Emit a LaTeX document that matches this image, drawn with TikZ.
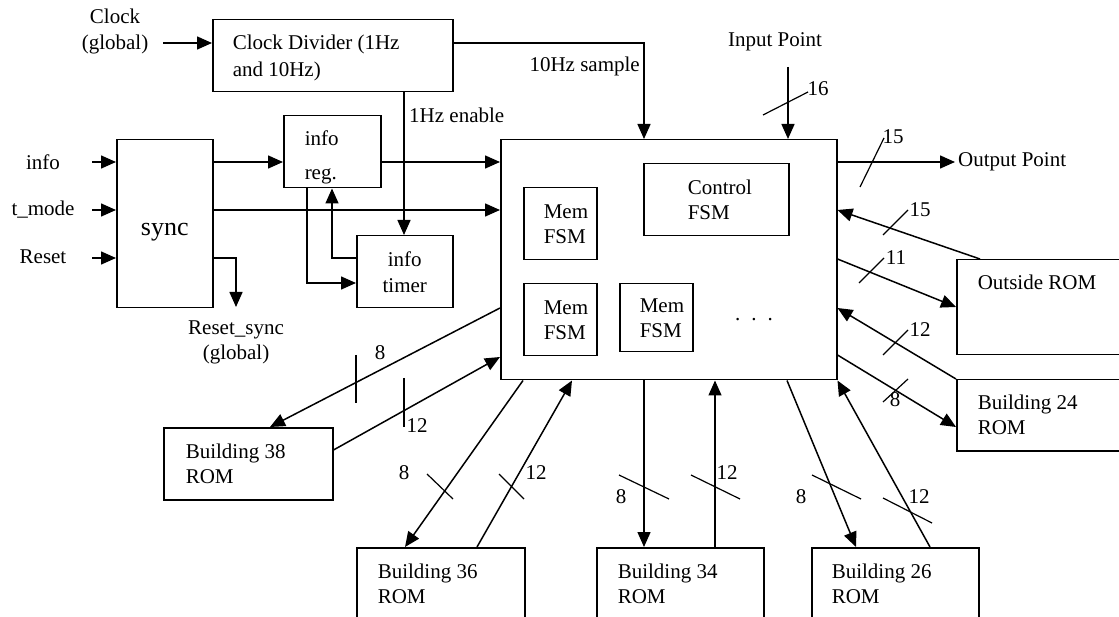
\documentclass[tikz,border=0pt]{standalone}
\usepackage{fontspec}
\setmainfont{Liberation Serif}
\usetikzlibrary{arrows.meta,calc}
\newcommand\myfs{\fontsize{21}{25}\selectfont}
\tikzset{
  box/.style={draw, line width=1.5pt, anchor=north west, align=flush left, inner ysep=0pt, font=\myfs},
  cbox/.style={draw, line width=1.5pt, anchor=north west, align=center, inner sep=0pt, font=\myfs},
  arr/.style={line width=1.5pt, -{Triangle[length=15pt,width=13pt]}},
  ln/.style={line width=1.5pt},
  tick/.style={line width=1.2pt},
  lbl/.style={inner sep=0pt, font=\myfs},
}
\begin{document}
\begin{tikzpicture}[x=1pt,y=-1pt]
\useasboundingbox (0,0) rectangle (1119,617);
\clip (0,0) rectangle (1119,617);
% boxes
\node[box, minimum width=240pt, minimum height=72pt, inner xsep=20pt, text width=200pt] (div) at (212,19) {\rule{0pt}{18pt}Clock Divider (1Hz\\[2pt]and 10Hz)};
\node[cbox, minimum width=96pt, minimum height=168pt, font=\fontsize{26}{30}\selectfont, text height=24pt, text depth=0pt] (sync) at (116,139) {sync};
\node[box, minimum width=97pt, minimum height=72pt, inner xsep=21pt, text width=55pt] (reg) at (283,115) {\rule{0pt}{26pt}info\\[9pt]reg.};
\node[cbox, minimum width=96pt, minimum height=72pt] (tim) at (356,235) {info\\[1pt]timer};
\node[box, minimum width=336pt, minimum height=240pt, inner sep=0pt] (cen) at (500,139) {};
\node[box, minimum width=145pt, minimum height=72pt, inner xsep=44pt, text width=57pt] (ctl) at (643,163) {Control\\FSM};
\node[box, minimum width=73pt, minimum height=72pt, inner xsep=20pt, text width=33pt] (m1) at (523,187) {Mem\\FSM};
\node[box, minimum width=73pt, minimum height=72pt, inner xsep=20pt, text width=33pt] (m2) at (523,283) {Mem\\FSM};
\node[box, minimum width=73pt, minimum height=68pt, inner xsep=20pt, text width=33pt] (m3) at (619,283) {Mem\\FSM};
\node[lbl, anchor=base west] (dots) at (735,321) {.\hspace{11pt}.\hspace{11pt}.};
\node[box, minimum width=175pt, minimum height=95pt, inner xsep=21pt, text width=133pt] (oro) at (956,259) {Outside ROM\\\mbox{}\\\mbox{}};
\node[box, minimum width=175pt, minimum height=71pt, inner xsep=21pt, text width=133pt] (b24) at (956,379) {Building 24\\ROM};
\node[box, minimum width=169pt, minimum height=72pt, inner xsep=22pt, text width=125pt] (b38) at (163,427) {Building 38\\ROM};
\node[box, minimum width=168pt, minimum height=72pt, inner xsep=21pt, text width=126pt] (b36) at (356,547) {Building 36\\ROM};
\node[box, minimum width=167pt, minimum height=72pt, inner xsep=21pt, text width=125pt] (b34) at (596,547) {Building 34\\ROM};
\node[box, minimum width=167pt, minimum height=72pt, inner xsep=20pt, text width=127pt] (b26) at (811,547) {Building 26\\ROM};
% external labels
\node[lbl, align=center] (clk) at (115,31) {Clock\\[1pt](global)};
\node[lbl] (linfo) at (43,162) {info};
\node[lbl] (ltm) at (43,210) {t\_mode};
\node[lbl] (lrst) at (43,257) {Reset};
\node[lbl, align=center] (lrs) at (236,342) {Reset\_sync\\(global)};
\node[lbl, anchor=east] (l10) at (640,66) {10Hz sample};
\node[lbl, anchor=west] (l1) at (409,115) {1Hz enable};
\node[lbl] (lin) at (775,42) {Input Point};
\node[lbl, anchor=west, inner xsep=3pt] (lout) at (955,162) {Output Point};
% free ends
\coordinate (clkA) at (163,43);
\coordinate (inA) at (788,67);
\coordinate (i1) at (92,162);
\coordinate (i2) at (92,210);
\coordinate (i3) at (92,258);
\coordinate (rsA) at (236,307);
% connectors
\draw[arr] (clkA) -- (div.west |- 0,43);
\draw[arr] (div.east |- 0,43) -| (cen.north -| 644,0);
\draw[arr] (div.south -| 404,0) -- (tim.north -| 404,0);
\draw[arr] (inA) -- (cen.north -| 788,0);
\draw[arr] (cen.east |- 0,162) -- (lout.west);
\draw[arr] (i1) -- (sync.west |- 0,162);
\draw[arr] (i2) -- (sync.west |- 0,210);
\draw[arr] (i3) -- (sync.west |- 0,258);
\draw[arr] (sync.east |- 0,162) -- (reg.west |- 0,162);
\draw[arr] (reg.east |- 0,162) -- (cen.west |- 0,162);
\draw[arr] (sync.east |- 0,210) -- (cen.west |- 0,210);
\draw[arr] (sync.east |- 0,258) -| (rsA);
\draw[arr] (reg.south -| 307,0) |- (tim.west |- 0,283);
\draw[arr] (tim.west |- 0,258) -| (reg.south -| 332,0);
\draw[arr] (cen.west |- 0,308) -- (b38.north -| 270,0);
\draw[arr] (b38.east |- 0,450) -- (cen.west |- 0,357);
\draw[arr] (cen.south -| 523,0) -- (b36.north -| 405,0);
\draw[arr] (b36.north -| 477,0) -- (cen.south -| 572,0);
\draw[arr] (cen.south -| 644,0) -- (b34.north -| 644,0);
\draw[arr] (b34.north -| 715,0) -- (cen.south -| 715,0);
\draw[arr] (cen.south -| 787,0) -- (b26.north -| 856,0);
\draw[arr] (b26.north -| 930,0) -- (cen.south east);
\draw[arr] (oro.north -| 980,0) -- (cen.east |- 0,210);
\draw[arr] (cen.east |- 0,259) -- (oro.west |- 0,307);
\draw[arr] (b24.north west) -- (cen.east |- 0,308);
\draw[arr] (cen.east |- 0,355) -- (b24.west |- 0,427);
% bus ticks
\draw[tick] (763,115) -- (808,92);
\draw[tick] (860,187) -- (884,138);
\draw[tick] (883,235) -- (908,210);
\draw[tick] (859,283) -- (884,258);
\draw[tick] (883,355) -- (908,330);
\draw[tick] (883,402) -- (908,379);
\draw[tick] (356,355) -- (356,403);
\draw[tick] (404,378) -- (404,427);
\draw[tick] (427,474) -- (453,499);
\draw[tick] (499,474) -- (524,499);
\draw[tick] (619,475) -- (669,499);
\draw[tick] (691,475) -- (740,499);
\draw[tick] (812,475) -- (861,499);
\draw[tick] (883,498) -- (932,523);
% bus width labels
\node[lbl] (n16) at (818,89) {16};
\node[lbl] (n15a) at (893,137) {15};
\node[lbl] (n15b) at (920,210) {15};
\node[lbl] (n11) at (896,258) {11};
\node[lbl] (n12a) at (920,330) {12};
\node[lbl] (n8a) at (895,400) {8};
\node[lbl] (n8b) at (380,353) {8};
\node[lbl] (n12b) at (417,426) {12};
\node[lbl] (n8c) at (404,473) {8};
\node[lbl] (n12c) at (536,473) {12};
\node[lbl] (n8d) at (621,497) {8};
\node[lbl] (n12d) at (727,473) {12};
\node[lbl] (n8e) at (801,497) {8};
\node[lbl] (n12e) at (919,497) {12};
\end{tikzpicture}
\end{document}
